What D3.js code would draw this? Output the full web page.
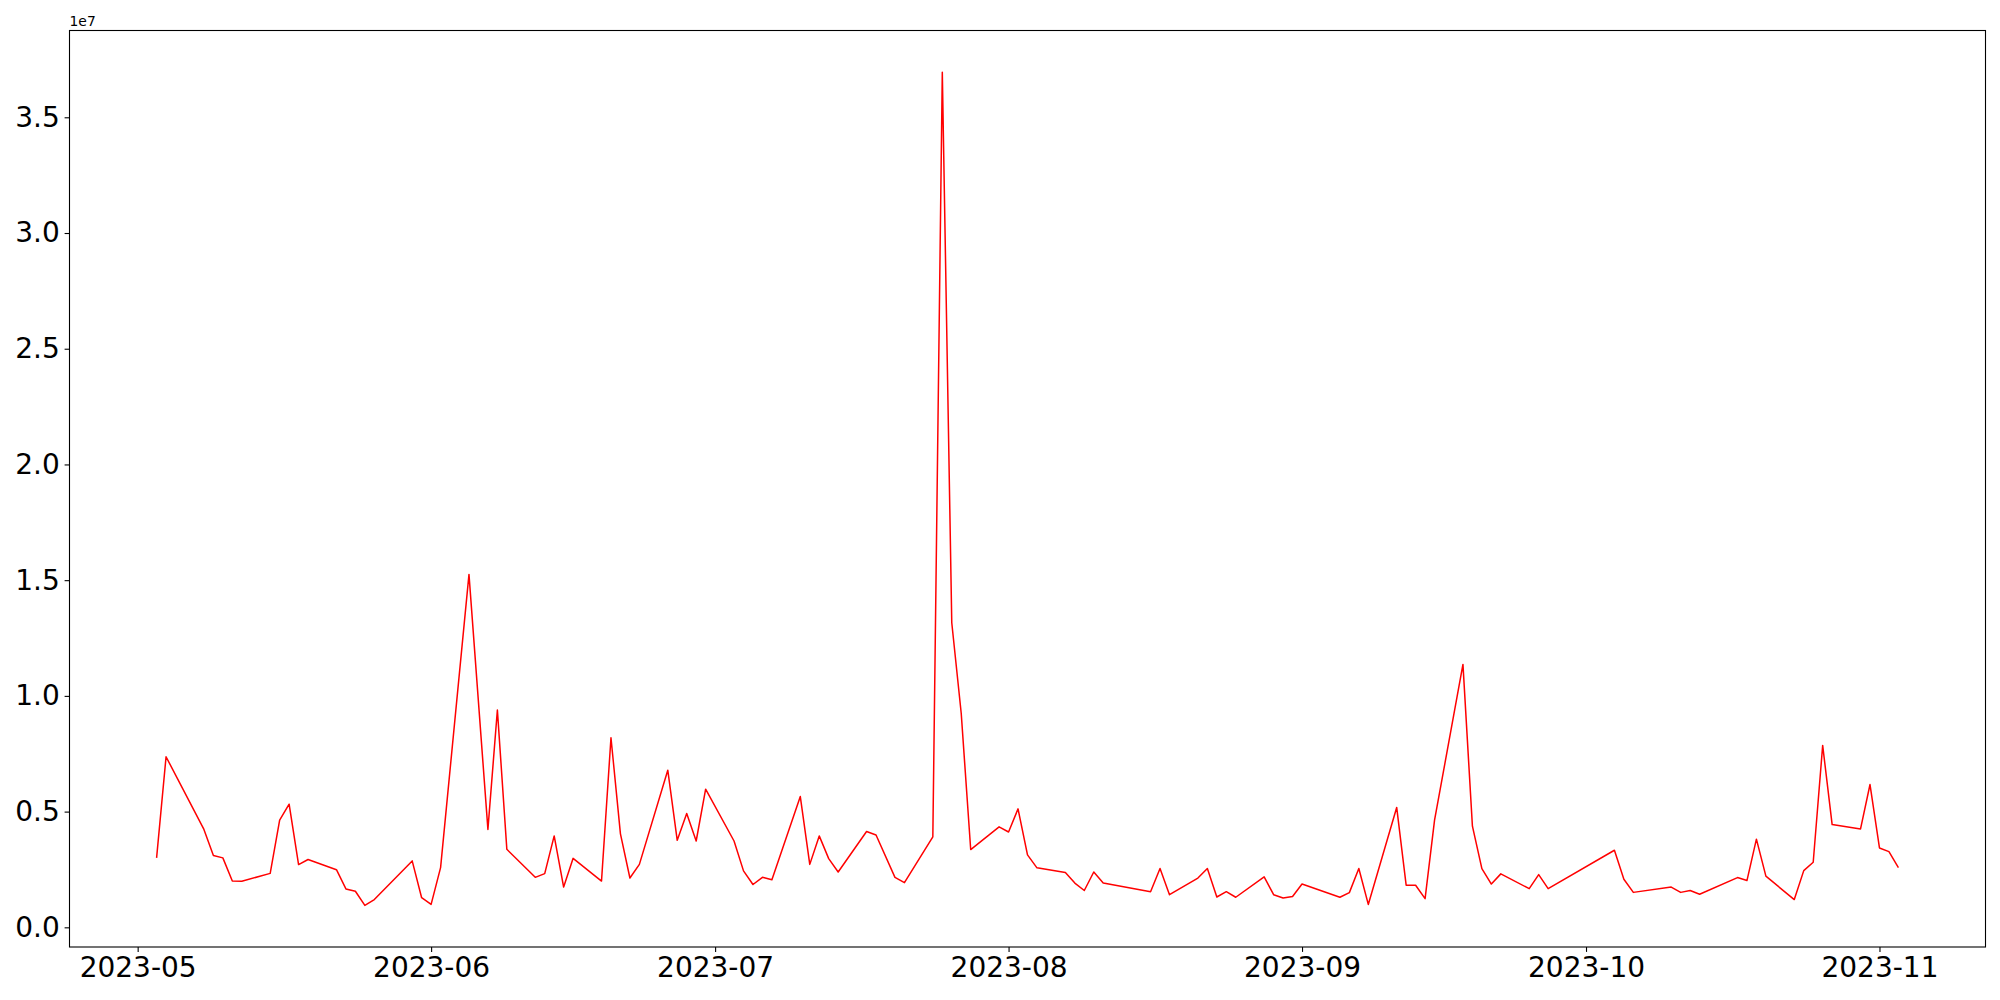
<!DOCTYPE html>
<html>
<head>
<meta charset="utf-8">
<script src="https://cdn.jsdelivr.net/npm/d3@7"></script>
<style>
    body { margin: 0; background: #fff; }
    text { font-family: "DejaVu Sans", sans-serif; }
</style>
</head>
<body>
<svg id="chart"></svg>
<script>
/**
 * Global variables
 */
var dates = [
    "2023-05-03", "2023-05-04", "2023-05-08", "2023-05-09", "2023-05-10", "2023-05-11", "2023-05-12",
    "2023-05-15", "2023-05-16", "2023-05-17", "2023-05-18", "2023-05-19", "2023-05-22", "2023-05-23",
    "2023-05-24", "2023-05-25", "2023-05-26", "2023-05-30", "2023-05-31", "2023-06-01", "2023-06-02",
    "2023-06-05", "2023-06-07", "2023-06-08", "2023-06-09", "2023-06-12", "2023-06-13", "2023-06-14",
    "2023-06-15", "2023-06-16", "2023-06-19", "2023-06-20", "2023-06-21", "2023-06-22", "2023-06-23",
    "2023-06-26", "2023-06-27", "2023-06-28", "2023-06-29", "2023-06-30", "2023-07-03", "2023-07-04",
    "2023-07-05", "2023-07-06", "2023-07-07", "2023-07-10", "2023-07-11", "2023-07-12", "2023-07-13",
    "2023-07-14", "2023-07-17", "2023-07-18", "2023-07-20", "2023-07-21", "2023-07-24", "2023-07-25",
    "2023-07-26", "2023-07-27", "2023-07-28", "2023-07-31", "2023-08-01", "2023-08-02", "2023-08-03",
    "2023-08-04", "2023-08-07", "2023-08-08", "2023-08-09", "2023-08-10", "2023-08-11", "2023-08-16",
    "2023-08-17", "2023-08-18", "2023-08-21", "2023-08-22", "2023-08-23", "2023-08-24", "2023-08-25",
    "2023-08-28", "2023-08-29", "2023-08-30", "2023-08-31", "2023-09-01", "2023-09-05", "2023-09-06",
    "2023-09-07", "2023-09-08", "2023-09-11", "2023-09-12", "2023-09-13", "2023-09-14", "2023-09-15",
    "2023-09-18", "2023-09-19", "2023-09-20", "2023-09-21", "2023-09-22", "2023-09-25", "2023-09-26",
    "2023-09-27", "2023-10-04", "2023-10-05", "2023-10-06", "2023-10-10", "2023-10-11", "2023-10-12",
    "2023-10-13", "2023-10-17", "2023-10-18", "2023-10-19", "2023-10-20", "2023-10-23", "2023-10-24",
    "2023-10-25", "2023-10-26", "2023-10-27", "2023-10-30", "2023-10-31", "2023-11-01", "2023-11-02",
    "2023-11-03"
];

var values = [
    3.00e6, 7.37e6, 4.23e6, 3.10e6, 3.00e6, 2.00e6, 1.99e6,
    2.33e6, 4.63e6, 5.32e6, 2.71e6, 2.93e6, 2.49e6, 1.66e6,
    1.56e6, 0.95e6, 1.20e6, 2.87e6, 1.28e6, 0.99e6, 2.58e6,
    15.25e6, 4.23e6, 9.39e6, 3.37e6, 2.16e6, 2.32e6, 3.95e6,
    1.74e6, 2.98e6, 2.00e6, 8.19e6, 4.04e6, 2.13e6, 2.72e6,
    6.79e6, 3.76e6, 4.92e6, 3.73e6, 5.97e6, 3.73e6, 2.44e6,
    1.85e6, 2.16e6, 2.06e6, 5.65e6, 2.72e6, 3.95e6, 2.97e6,
    2.39e6, 4.14e6, 3.99e6, 2.16e6, 1.93e6, 3.91e6, 36.95e6,
    13.16e6, 9.24e6, 3.36e6, 4.34e6, 4.12e6, 5.12e6, 3.13e6,
    2.57e6, 2.37e6, 1.91e6, 1.59e6, 2.39e6, 1.92e6, 1.54e6,
    2.54e6, 1.41e6, 2.13e6, 2.54e6, 1.31e6, 1.54e6, 1.30e6,
    2.18e6, 1.41e6, 1.27e6, 1.33e6, 1.87e6, 1.30e6, 1.50e6,
    2.54e6, 0.99e6, 5.18e6, 1.82e6, 1.82e6, 1.24e6, 4.63e6,
    11.36e6, 4.37e6, 2.54e6, 1.87e6, 2.31e6, 1.67e6, 2.28e6,
    1.67e6, 3.33e6, 2.08e6, 1.51e6, 1.74e6, 1.51e6, 1.59e6,
    1.43e6, 2.15e6, 2.02e6, 3.81e6, 2.21e6, 1.20e6, 2.45e6,
    2.81e6, 7.86e6, 4.44e6, 4.25e6, 6.17e6, 3.43e6, 3.27e6,
    2.58e6
];

var xTicks = ["2023-05-01", "2023-06-01", "2023-07-01", "2023-08-01", "2023-09-01", "2023-10-01", "2023-11-01"];
var yTicks = [0, 0.5e7, 1.0e7, 1.5e7, 2.0e7, 2.5e7, 3.0e7, 3.5e7];

var w = 2000;
var h = 1000;
var plot = { left: 69.5, right: 1985.5, top: 30.5, bottom: 947 };

var parseDate = d3.timeParse("%Y-%m-%d");

/**
 * Pad a [min, max] extent by 5% on each side, like matplotlib does.
 */
var padExtent = function(ext) {
    let span = ext[1] - ext[0];
    return [ext[0] - span * 0.05, ext[1] + span * 0.05];
};

var dataset = dates.map(function(d, i) {
    return { date: parseDate(d), value: values[i] };
});

var svg = d3.select("#chart").attr("width", w).attr("height", h);

svg.append("rect")
    .attr("width", w).attr("height", h)
    .attr("fill", "#fff");

// X scale
let xExt = padExtent(d3.extent(dataset, function(d) { return +d.date; }));
let x = d3.scaleTime()
    .domain([new Date(xExt[0]), new Date(xExt[1])])
    .range([plot.left, plot.right]);

// Y scale
let y = d3.scaleLinear()
    .domain(padExtent(d3.extent(dataset, function(d) { return d.value; })))
    .range([plot.bottom, plot.top]);

// The line
let line = d3.line()
    .x(function(d) { return x(d.date); })
    .y(function(d) { return y(d.value); });

svg.append("path")
    .datum(dataset)
    .attr("fill", "none")
    .attr("stroke", "#ff0000")
    .attr("stroke-width", 1.5)
    .attr("stroke-linejoin", "round")
    .attr("d", line);

// X-axis
let xAxis = svg.append("g")
    .attr("transform", "translate(0," + plot.bottom + ")")
    .call(d3.axisBottom(x)
        .tickValues(xTicks.map(parseDate))
        .tickFormat(d3.timeFormat("%Y-%m"))
        .tickSize(4.9)
        .tickPadding(4.9));

// Y-axis
let yAxis = svg.append("g")
    .attr("transform", "translate(" + plot.left + ",0)")
    .call(d3.axisLeft(y)
        .tickValues(yTicks)
        .tickFormat(function(v) { return (v / 1e7).toFixed(1); })
        .tickSize(4.9)
        .tickPadding(4.9));

[xAxis, yAxis].forEach(function(a) {
    a.select(".domain").remove();
    a.selectAll(".tick line").attr("stroke", "#000").attr("stroke-width", 1.1);
    a.selectAll(".tick text")
        .attr("fill", "#000")
        .style("font-family", "'DejaVu Sans', sans-serif")
        .style("font-size", "28px");
});

// Frame around the plot area
svg.append("rect")
    .attr("x", plot.left).attr("y", plot.top)
    .attr("width", plot.right - plot.left)
    .attr("height", plot.bottom - plot.top)
    .attr("fill", "none")
    .attr("stroke", "#000")
    .attr("stroke-width", 1.1);

// Offset text for the y axis
svg.append("text")
    .attr("x", plot.left)
    .attr("y", plot.top - 5)
    .attr("font-size", "13.9px")
    .attr("fill", "#000")
    .text("1e7");
</script>
</body>
</html>
